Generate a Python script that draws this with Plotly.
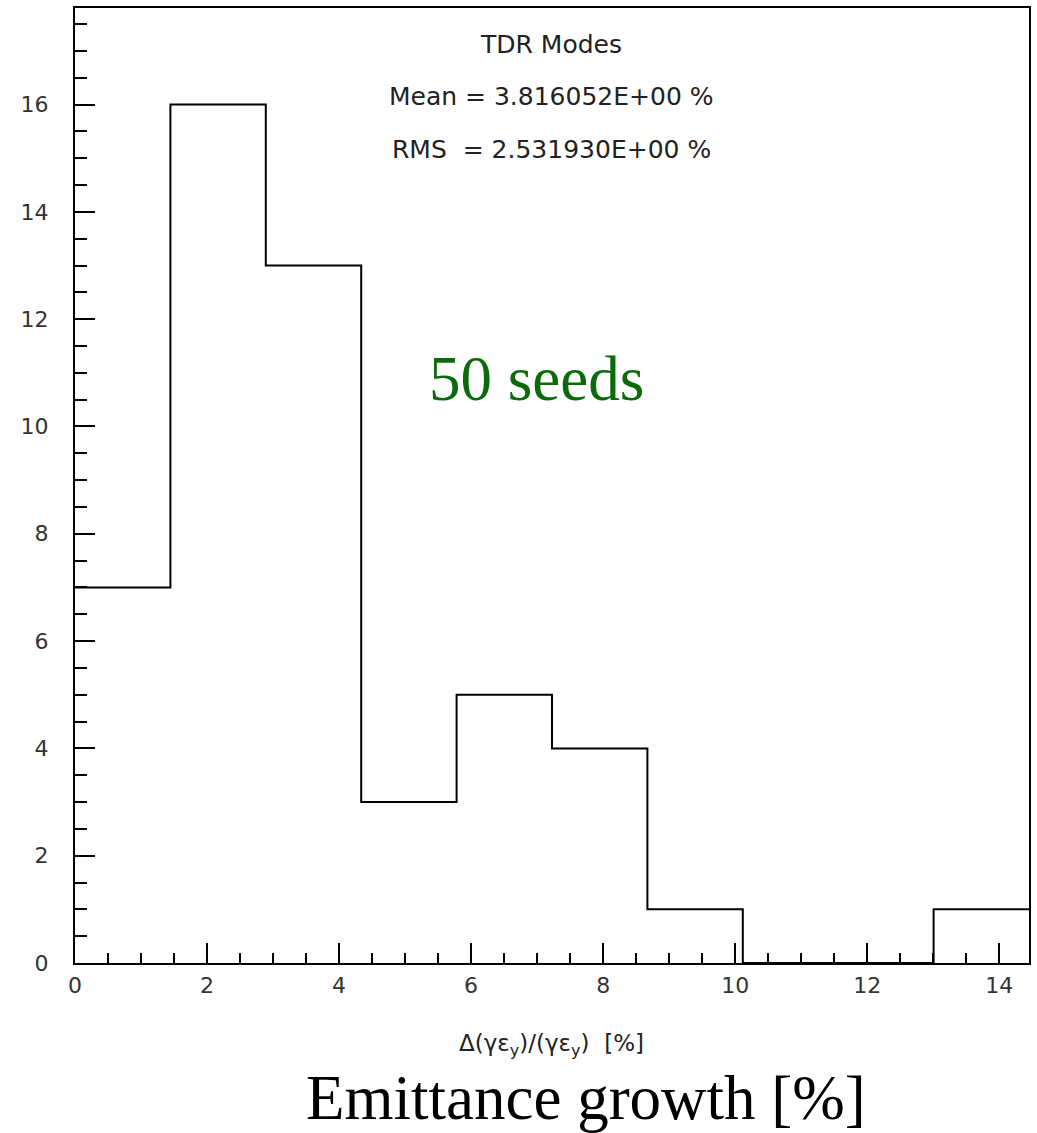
import plotly.graph_objects as go

# Histogram of emittance growth over 50 seeds
bin_edges = [0.0, 1.445, 2.89, 4.335, 5.78, 7.225, 8.67, 10.115, 11.56, 13.005, 14.45]
counts = [7, 16, 13, 3, 5, 4, 1, 0, 0, 1]

stat_title = "TDR Modes"
stat_mean = "Mean = 3.816052E+00 %"
stat_rms = "RMS  = 2.531930E+00 %"

x_ticks = [0, 2, 4, 6, 8, 10, 12, 14]
y_ticks = [0, 2, 4, 6, 8, 10, 12, 14, 16]

# step outline: repeat the last count so the final bin reaches the right edge
step_y = counts + [counts[-1]]

fig = go.Figure()
fig.add_trace(go.Scatter(
    x=bin_edges, y=step_y, mode="lines", line_shape="hv",
    line=dict(color="black", width=2), showlegend=False, hoverinfo="skip",
))

tick_font = dict(family="DejaVu Sans", size=22, color="#333333")
axis_common = dict(
    showline=True, linecolor="black", linewidth=2, mirror=True,
    showgrid=False, zeroline=False, ticks="inside", tickcolor="black",
    tickwidth=2, ticklen=20, tickfont=tick_font,
)

fig.update_xaxes(
    range=[0, 14.45], tickvals=x_ticks, ticktext=[str(v) for v in x_ticks],
    minor=dict(dtick=0.5, tick0=0, ticks="inside", ticklen=10,
               tickcolor="black", tickwidth=2, showgrid=False),
    ticklabelstandoff=2,
    **axis_common,
)
fig.update_yaxes(
    range=[0, 17.8], tickvals=y_ticks, ticktext=[str(v) for v in y_ticks],
    minor=dict(dtick=0.5, tick0=0, ticks="inside", ticklen=12,
               tickcolor="black", tickwidth=2, showgrid=False),
    ticklabelstandoff=20,
    **axis_common,
)

stat_font = dict(family="DejaVu Sans", size=25, color="#222222")
for txt, yy in [(stat_title, 0.962), (stat_mean, 0.907), (stat_rms, 0.852)]:
    fig.add_annotation(text=txt, x=0.499, y=yy, xref="paper", yref="paper",
                       showarrow=False, font=stat_font, xanchor="center", yanchor="middle")

fig.add_annotation(text="50 seeds", x=0.484, y=0.612, xref="paper", yref="paper",
                   showarrow=False, xanchor="center", yanchor="middle",
                   font=dict(family="Liberation Serif", size=63, color="#0b6a0b"))

fig.add_annotation(text="Δ(γε<sub>y</sub>)/(γε<sub>y</sub>)  [%]", x=0.499, y=-0.0857,
                   xref="paper", yref="paper", showarrow=False,
                   xanchor="center", yanchor="middle",
                   font=dict(family="DejaVu Sans", size=23, color="#222222"))

fig.add_annotation(text="Emittance growth [%]", x=0.536, y=-0.141,
                   xref="paper", yref="paper", showarrow=False,
                   xanchor="center", yanchor="middle",
                   font=dict(family="Liberation Serif", size=63, color="black"))

fig.update_layout(
    width=1037, height=1133,
    margin=dict(l=75, r=6, t=6, b=170),
    paper_bgcolor="white", plot_bgcolor="white",
)

fig.write_html("out.html")
